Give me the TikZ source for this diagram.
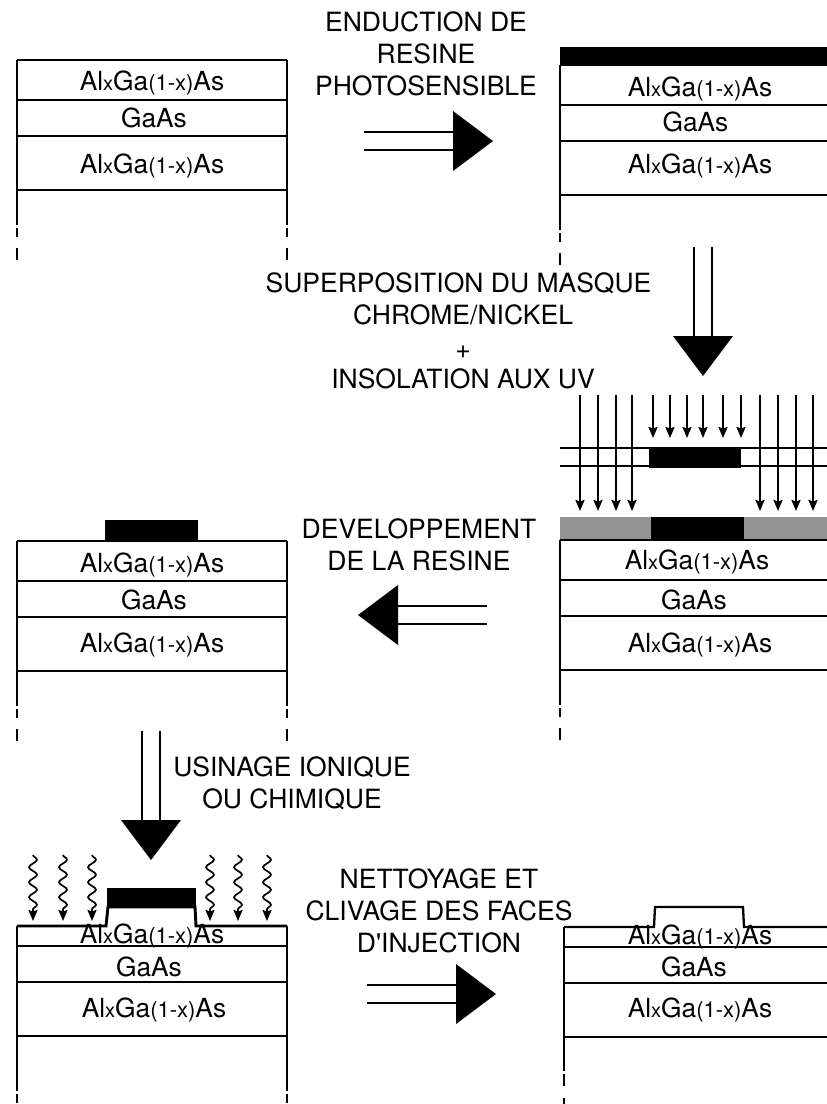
\documentclass[tikz,border=0pt]{standalone}
\usepackage{fontspec}
\setmainfont{TeX Gyre Heros}
\usetikzlibrary{arrows.meta,decorations.pathmorphing}
\tikzset{
  layerline/.style={line width=2.9pt},
  thinline/.style={line width=2.3pt},
  layertext/.style={inner sep=0pt, font=\fontsize{26.3}{26}\selectfont},
  captiontext/.style={inner sep=0pt, align=center, font=\fontsize{26.5}{32}\selectfont},
  uvarrow/.style={line width=1.9pt, -{Stealth[length=11pt,width=9pt,inset=1.5pt]}},
  ionarrow/.style={line width=1.7pt, -{Stealth[length=11pt,width=9pt,inset=1.5pt]},
    decoration={snake,amplitude=4pt,segment length=15pt,post length=11pt}, decorate},
}
\newcommand{\alga}{Al{\fontsize{20}{20}\selectfont x}Ga{\fontsize{22}{22}\selectfont (1-x)}As}
% left or right edge of a wafer, broken at the bottom
\newcommand{\waferedge}[2]{
  \draw[layerline] (#1,#2) -- (#1,#2+165);
  \draw[layerline] (#1,#2+168) -- (#1,#2+177);
  \draw[layerline] (#1,#2+188) -- (#1,#2+200);
}
% three lines below the top layer
\newcommand{\waferlines}[3]{
  \foreach \dy in {40,76,130} \draw[layerline] (#1,#3+\dy) -- (#2,#3+\dy);
}
\newcommand{\bigarrow}[3]{
  \begin{scope}[shift={(#1,#2)},rotate=#3]
  \draw[thinline] (0,-9) -- (90,-9);
  \draw[thinline] (0,9) -- (90,9);
  \fill (89,-30) -- (129,0) -- (89,30) -- cycle;
  \end{scope}
}
\begin{document}
\begin{tikzpicture}[x=1pt,y=-1pt]
\useasboundingbox (0,0) rectangle (827,1104);
% first wafer
\draw[thinline] (17,60) -- (287,60);
\waferlines{17}{287}{60}
\waferedge{17}{60}
\waferedge{287}{60}
\node[layertext] (topa) at (152,83) {\alga};
\node[layertext] (wella) at (154,118) {GaAs};
\node[layertext] (bota) at (152,166) {\alga};
% resin on top
\fill (560,47) rectangle (827,66);
\waferlines{560}{827}{65}
\waferedge{560}{65}
\node[layertext] (topb) at (700,89) {\alga};
\node[layertext] (wellb) at (695.5,122) {GaAs};
\node[layertext] (botb) at (700,166) {\alga};
\bigarrow{364}{141}{0}
\node[captiontext] (capa) at (426,54) {ENDUCTION DE\\RESINE\\PHOTOSENSIBLE};
% mask and exposure
\bigarrow{703}{247}{-90}
\node[captiontext, anchor=base] (capb) at (458.5,292) {SUPERPOSITION DU MASQUE};
\node[captiontext, anchor=base] (capbb) at (463,324) {CHROME/NICKEL};
\node[captiontext, anchor=base] (capbc) at (463,358) {+};
\node[captiontext, anchor=base] (capbd) at (463,388) {INSOLATION AUX UV};
\foreach \x in {580,598,616,632,760,778,796,813} \draw[uvarrow] (\x,395) -- (\x,511);
\foreach \x in {653,670,687,703,723,741} \draw[uvarrow] (\x,395) -- (\x,438);
\draw[thinline] (560,448) -- (827,448);
\draw[thinline] (560,466) -- (827,466);
\fill (649,447) rectangle (741,468);
\fill[gray!85!white] (560,517) rectangle (827,540);
\fill (651,517) rectangle (744,540);
\draw[layerline] (560,540) -- (827,540);
\waferlines{560}{827}{540}
\waferedge{560}{540}
\node[layertext] (topc) at (697,562) {\alga};
\node[layertext] (wellc) at (694,600) {GaAs};
\node[layertext] (botc) at (700,645) {\alga};
% developed resin
\bigarrow{487}{615}{180}
\node[captiontext] (capc) at (419,544.5) {DEVELOPPEMENT\\DE LA RESINE};
\fill (105,520) rectangle (198,541);
\draw[thinline] (17,541) -- (287,541);
\waferlines{17}{287}{541}
\waferedge{17}{541}
\waferedge{287}{541}
\node[layertext] (topd) at (152,565) {\alga};
\node[layertext] (welld) at (154,600) {GaAs};
\node[layertext] (botd) at (152,645) {\alga};
% etching
\bigarrow{151}{731}{-90}
\node[captiontext] (capd) at (292,783.5) {USINAGE IONIQUE\\OU CHIMIQUE};
\foreach \x in {33,63,92,210,238,267} \draw[ionarrow] (\x,855) -- (\x,921);
\fill (107,888) rectangle (196,908);
\draw[layerline] (17,926) -- (106,926) -- (108,907) -- (195,907) -- (196,926) -- (287,926);
\draw[layerline] (17,946) -- (287,946);
\waferlines{17}{287}{906}
\waferedge{17}{926}
\waferedge{287}{926}
\node[layertext] (tope) at (152,936) {\alga};
\node[layertext] (welle) at (149,967) {GaAs};
\node[layertext] (bote) at (154,1010) {\alga};
% cleaned and cleaved
\bigarrow{367}{994}{0}
\node[captiontext] (cape) at (439,911) {NETTOYAGE ET\\CLIVAGE DES FACES\\D\textquotesingle INJECTION};
\draw[thinline] (564,927) -- (654,927) -- (655,907) -- (743,907) -- (744,927) -- (827,927);
\draw[layerline] (564,947) -- (827,947);
\waferlines{564}{827}{907}
\draw[layerline] (564,927) -- (564,1071);
\draw[layerline] (564,1074) -- (564,1086);
\draw[layerline] (564,1098) -- (564,1104);
\node[layertext] (topf) at (700,937) {\alga};
\node[layertext] (wellf) at (694,967) {GaAs};
\node[layertext] (botf) at (700,1010) {\alga};
\end{tikzpicture}
\end{document}
